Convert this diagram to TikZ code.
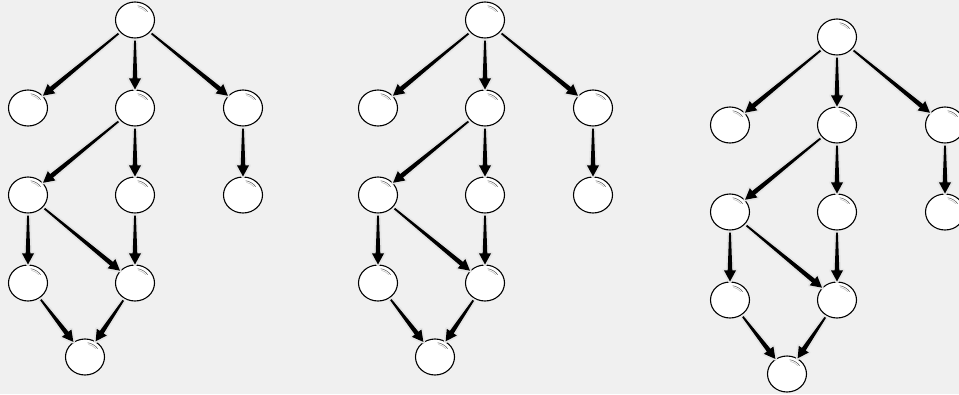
\documentclass[tikz,border=0pt]{standalone}
\usetikzlibrary{calc,shapes.geometric}
\definecolor{bg}{HTML}{F0F0F0}
\tikzset{
  vert/.style={ellipse,draw=black,fill=white,line width=1.1pt,minimum width=39pt,minimum height=36pt,inner sep=0pt,
    path picture={\draw[black!60,line width=0.55pt,shift={(path picture bounding box.center)}]
      (80:15.5pt and 14.5pt) arc[start angle=80,end angle=35,x radius=15.5pt,y radius=14.5pt];
      \draw[black!25,line width=0.5pt,shift={(path picture bounding box.center)}]
      (76:14pt and 13pt) arc[start angle=76,end angle=40,x radius=14pt,y radius=13pt];}},
  wedge/.style={fill=black},
  wedgeshadow/.style={draw=black!10,line width=3.5pt,line join=round}
}
\newcommand{\tedge}[2]{%
  \path (#1) -- (#2) coordinate[pos=0] (ts0) coordinate[pos=1] (tt);
  \coordinate (ts) at ($(ts0)!2pt!(tt)$);
  \coordinate (tm) at ($(tt)!11pt!(ts)$);
  \path[wedgeshadow,wedge] ($(ts)!0.9pt!90:(tm)$) -- ($(tm)!2.3pt!-90:(ts)$) -- ($(tm)!6pt!-90:(ts)$) -- (tt)
    -- ($(tm)!6pt!90:(ts)$) -- ($(tm)!2.3pt!90:(ts)$) -- ($(ts)!0.9pt!-90:(tm)$) -- cycle;
  \path[wedge] ($(ts)!0.9pt!90:(tm)$) -- ($(tm)!2.3pt!-90:(ts)$) -- ($(tm)!6pt!-90:(ts)$) -- (tt)
    -- ($(tm)!6pt!90:(ts)$) -- ($(tm)!2.3pt!90:(ts)$) -- ($(ts)!0.9pt!-90:(tm)$) -- cycle;
}
\begin{document}
\begin{tikzpicture}[x=1pt,y=1pt]
\fill[bg] (0,0) rectangle (959,-394);
\useasboundingbox (0,0) rectangle (959,-394);
\foreach \g/\ox/\oy in {a/135/-20, b/485/-20, c/837/-37}{
  \begin{scope}[shift={(\ox,\oy)}]
    \node[vert] (\g R) at (0,0) {};
    \node[vert] (\g A) at (-107,-88) {};
    \node[vert] (\g B) at (0,-88) {};
    \node[vert] (\g C) at (108,-88) {};
    \node[vert] (\g D) at (-107,-175) {};
    \node[vert] (\g E) at (0,-175) {};
    \node[vert] (\g F) at (108,-175) {};
    \node[vert] (\g G) at (-107,-263) {};
    \node[vert] (\g H) at (0,-263) {};
    \node[vert] (\g I) at (-50,-337) {};
    \tedge{\g R}{\g A}
    \tedge{\g R}{\g B}
    \tedge{\g R}{\g C}
    \tedge{\g B}{\g D}
    \tedge{\g B}{\g E}
    \tedge{\g C}{\g F}
    \tedge{\g D}{\g G}
    \tedge{\g D}{\g H}
    \tedge{\g E}{\g H}
    \tedge{\g G}{\g I}
    \tedge{\g H}{\g I}
  \end{scope}
}
\end{tikzpicture}
\end{document}
